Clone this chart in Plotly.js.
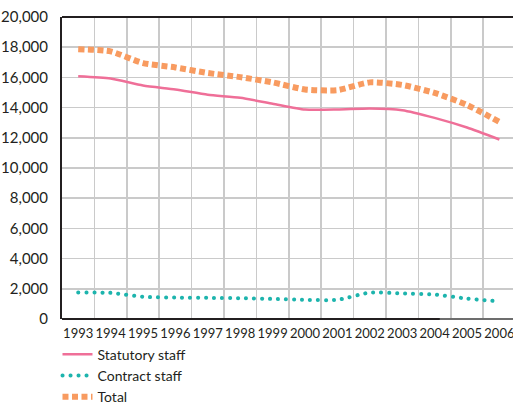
<!DOCTYPE html>
<html>
<head>
<meta charset="utf-8">
<script src="https://cdn.plot.ly/plotly-3.0.1.min.js"></script>
<style>
  html, body { margin: 0; padding: 0; background: #fff; }
  #chart { width: 513px; height: 407px; }
  /* round caps turn the contract-staff dash pattern into dots */
  .scatterlayer .trace:nth-child(2) .js-line { stroke-linecap: round; }
  .legend .traces:nth-child(2) .js-line { stroke-linecap: round; }
</style>
</head>
<body>
<div id="chart"></div>
<script>
const years = [1993, 1994, 1995, 1996, 1997, 1998, 1999, 2000, 2001, 2002, 2003, 2004, 2005, 2006];
const statutoryStaff = [16080, 15930, 15460, 15200, 14850, 14650, 14260, 13870, 13870, 13940, 13830, 13320, 12680, 11890];
const contractStaff = [1750, 1730, 1470, 1420, 1400, 1380, 1330, 1270, 1270, 1750, 1690, 1620, 1350, 1170];
const totalStaff = [17870, 17720, 16950, 16660, 16290, 16020, 15670, 15200, 15160, 15670, 15500, 14970, 14180, 13050];
const yTicks = [0, 2000, 4000, 6000, 8000, 10000, 12000, 14000, 16000, 18000, 20000];
const seriesNames = ['Statutory staff', 'Contract staff', 'Total'];

const font = 'Lato, "Open Sans", "DejaVu Sans", sans-serif';
const narrowFont = '"Liberation Sans Narrow", Lato, sans-serif';

const traces = [
  {
    x: years, y: statutoryStaff, name: seriesNames[0], type: 'scatter', mode: 'lines',
    line: { color: '#ef6f98', width: 2.5, shape: 'spline', smoothing: 0.6 }
  },
  {
    x: years, y: contractStaff, name: seriesNames[1], type: 'scatter', mode: 'lines',
    line: { color: '#1db4ad', width: 4, dash: '0.1px,7.9px', shape: 'spline', smoothing: 0.6 }
  },
  {
    x: years, y: totalStaff, name: seriesNames[2], type: 'scatter', mode: 'lines',
    line: { color: '#f89b60', width: 6, dash: '6px,3.5px', shape: 'spline', smoothing: 0.6 }
  }
];

const layout = {
  width: 513, height: 407,
  margin: { l: 62, r: 0, t: 17, b: 88, autoexpand: false },
  paper_bgcolor: '#fff', plot_bgcolor: '#fff',
  showlegend: true,
  font: { family: font, color: '#231f20' },
  xaxis: {
    range: [1992.5, 2006.42],
    tickmode: 'array', tickvals: years, ticktext: years.map(String),
    showgrid: false, zeroline: false, showline: false,
    ticks: '', ticklabelstandoff: 5, ticklabeloverflow: 'allow',
    tickfont: { size: 13, family: narrowFont, color: '#231f20' },
    minor: { tickmode: 'linear', tick0: 1992.5, dtick: 1, showgrid: true, gridcolor: '#cacaca', gridwidth: 1.5, ticks: '' }
  },
  yaxis: {
    range: [0, 20000],
    tickmode: 'array', tickvals: yTicks, ticktext: yTicks.map(v => v.toLocaleString('en-US')),
    showgrid: true, gridcolor: '#cacaca', gridwidth: 1.5, zeroline: false,
    showline: true, linecolor: '#231f20', linewidth: 2,
    ticks: 'outside', ticklen: 9, tickcolor: 'rgba(0,0,0,0)',
    tickfont: { size: 15, family: font, color: '#231f20' }
  },
  shapes: [
    { type: 'line', xref: 'paper', yref: 'paper', x0: 0, x1: 1, y0: 1, y1: 1, line: { color: '#231f20', width: 2 } },
    { type: 'line', xref: 'paper', yref: 'paper', x0: 0, x1: 0.838, y0: 0, y1: 0, line: { color: '#231f20', width: 2 } },
    { type: 'line', xref: 'paper', yref: 'paper', x0: 0.838, x1: 1, y0: 0, y1: 0, line: { color: '#6d6d6d', width: 2 } }
  ],
  legend: {
    orientation: 'v', x: -0.01, xanchor: 'left', y: -0.065, yanchor: 'top',
    font: { size: 14, family: font, color: '#231f20' },
    bgcolor: 'rgba(0,0,0,0)', itemwidth: 30, tracegroupgap: 0
  }
};

Plotly.newPlot('chart', traces, layout, { displayModeBar: false, staticPlot: true });
</script>
</body>
</html>
